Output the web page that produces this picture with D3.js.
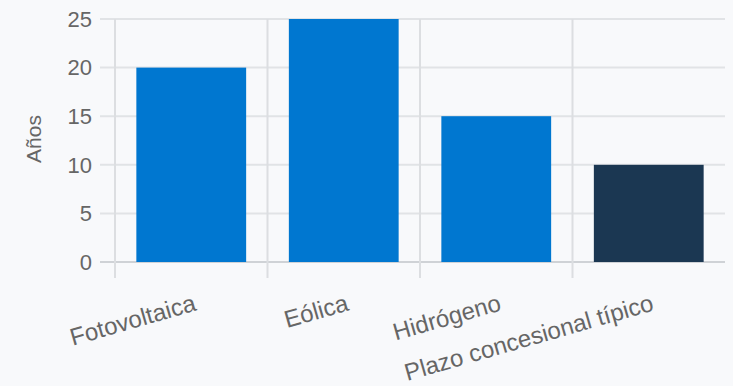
<!DOCTYPE html>
<html>
<head>
<meta charset="utf-8">
<script src="https://cdn.jsdelivr.net/npm/d3@7"></script>
<style>
  body { margin: 0; background: #f8f9fb; }
  svg { display: block; font-family: "Liberation Sans", Arial, sans-serif; }
</style>
</head>
<body>
<svg id="chart" width="733" height="386"></svg>
<script>
var categories = ["Fotovoltaica", "Eólica", "Hidrógeno", "Plazo concesional típico"];
var values = [20, 25, 15, 10];
var barColors = ["#0077d0", "#0077d0", "#0077d0", "#1b3752"];
var yTicks = [0, 5, 10, 15, 20, 25];

var svg = d3.select("#chart");
var margin = {top: 19, right: 8, bottom: 124, left: 115};
var width = 733 - margin.left - margin.right,
    height = 386 - margin.top - margin.bottom;

var g = svg.append("g")
    .attr("transform", "translate(" + margin.left + "," + margin.top + ")");

var x = d3.scaleBand().domain(categories).range([0, width]).padding(0);
var y = d3.scaleLinear().domain([0, 25]).range([height, 0]);

// horizontal grid
g.append("g").selectAll("line")
    .data(yTicks)
  .enter().append("line")
    .attr("x1", -15).attr("x2", width)
    .attr("y1", function(d) { return y(d); })
    .attr("y2", function(d) { return y(d); })
    .attr("stroke", function(d) { return d === 0 ? "#cfd2d6" : "#e1e3e6"; })
    .attr("stroke-width", 2);

// vertical lines at band starts
g.append("g").selectAll("line")
    .data(categories)
  .enter().append("line")
    .attr("x1", function(d) { return x(d); })
    .attr("x2", function(d) { return x(d); })
    .attr("y1", 0).attr("y2", height + 16)
    .attr("stroke", "#dcdee1")
    .attr("stroke-width", 2);

// bars
var step = x.bandwidth();
g.append("g").selectAll("rect")
    .data(values)
  .enter().append("rect")
    .attr("x", function(d, i) { return x(categories[i]) + step * 0.14; })
    .attr("width", step * 0.72)
    .attr("y", function(d) { return y(d); })
    .attr("height", function(d) { return y(0) - y(d); })
    .attr("fill", function(d, i) { return barColors[i]; });

// y tick labels
g.append("g").selectAll("text")
    .data(yTicks)
  .enter().append("text")
    .attr("x", -23)
    .attr("y", function(d) { return y(d); })
    .attr("dy", "0.35em")
    .attr("text-anchor", "end")
    .attr("fill", "#666")
    .style("font-size", "22px")
    .text(function(d) { return d; });

// x labels
g.append("g").selectAll("text")
    .data(categories)
  .enter().append("text")
    .attr("transform", function(d) {
        return "translate(" + (x(d) + step / 2 + 6) + "," + (height + 48) + ") rotate(-16)";
    })
    .attr("text-anchor", "end")
    .attr("fill", "#666")
    .style("font-size", "24px")
    .text(function(d) { return d; });

// y title
svg.append("text")
    .attr("transform", "translate(41,139) rotate(-90)")
    .attr("text-anchor", "middle")
    .attr("fill", "#666")
    .style("font-size", "21px")
    .text("Años");
</script>
</body>
</html>
